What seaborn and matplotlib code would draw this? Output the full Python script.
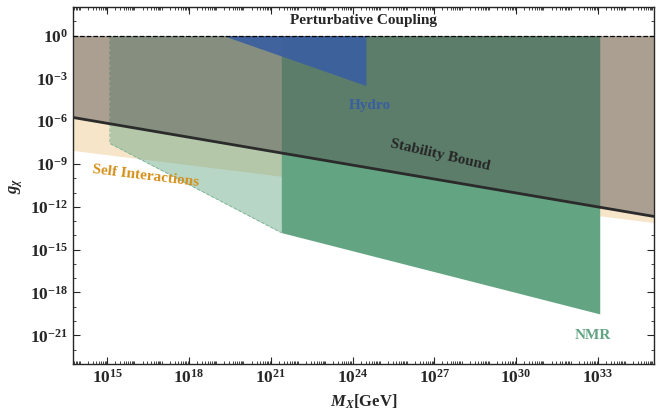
import numpy as np
import seaborn as sns
import matplotlib.pyplot as plt
from matplotlib.ticker import LogLocator, FixedLocator, NullFormatter

# log10 values
x_edges = [13.75, 35.05]
self_int_low = [-8.05, -13.1]          # lower edge of self-interaction band
stability = [-5.74, -12.67]            # stability bound
nmr_light_x = [15.1, 21.38]
nmr_light_low = [-7.56, -13.8]
nmr_x = [21.38, 33.07]
nmr_low = [-13.8, -19.5]
hydro_x = [19.25, 24.49]
hydro_low = [0.0, -3.5]
x_ticks = [15, 18, 21, 24, 27, 30, 33]
y_ticks = [0, -3, -6, -9, -12, -15, -18, -21]

sns.set_style('ticks')
plt.rcParams['font.family'] = ['Liberation Serif', 'DejaVu Serif']
plt.rcParams['font.weight'] = 'bold'
plt.rcParams['mathtext.fontset'] = 'custom'
plt.rcParams['mathtext.rm'] = 'Liberation Serif:bold'
plt.rcParams['mathtext.it'] = 'Liberation Serif:italic:bold'
plt.rcParams['mathtext.bf'] = 'Liberation Serif:bold'

fig = plt.figure(figsize=(6.65, 4.13), dpi=100)
ax = fig.add_axes([0.110, 0.119, 0.873, 0.864])
ax.set_xscale('log')
ax.set_yscale('log')

p = lambda v: 10.0 ** np.asarray(v)

# self interactions band
ax.fill_between(p(x_edges), p(self_int_low), 1, color='#f7e5c9', lw=0, zorder=1)
# NMR projected (light) and NMR
ax.fill_between(p(nmr_light_x), p(nmr_light_low), 1, color='#63a582', alpha=0.45, lw=0, zorder=2)
ax.plot(p([nmr_light_x[0], nmr_light_x[0], nmr_light_x[1]]),
        p([0, nmr_light_low[0], nmr_light_low[1]]), ls='--', lw=0.7, color='#7fb597', zorder=2)
ax.fill_between(p(nmr_x), p(nmr_low), 1, color='#63a582', lw=0, zorder=3)
# region above stability bound
ax.fill_between(p(x_edges), p(stability), 1, color='#545050', alpha=0.47, lw=0, zorder=4)
# hydro
ax.fill_between(p(hydro_x), p(hydro_low), 1, color='#3a5fa0', alpha=0.92, lw=0, zorder=5)
# stability bound line
ax.plot(p(x_edges), p(stability), color='#2b2b2b', lw=2, zorder=6)
# perturbative coupling
ax.axhline(1, color='black', ls='--', lw=0.9, zorder=6)

fs = 11
ax.text(p(24.4), p(1.05), 'Perturbative Coupling', ha='center', va='center', fontsize=fs, fontweight='bold')
ax.text(p(24.65), p(-4.9), 'Hydro', ha='center', va='center', fontsize=fs, fontweight='bold',
        color='#3a5fa0', zorder=8)
ax.text(p(27.2), p(-8.4), 'Stability Bound', ha='center', va='center', fontsize=fs, fontweight='bold',
        rotation=-13, zorder=8)
ax.text(p(16.4), p(-9.85), 'Self Interactions', ha='center', va='center', fontsize=fs, fontweight='bold',
        color='#d4901a', rotation=-7, zorder=8)
ax.text(p(32.8), p(-21.0), 'NMR', ha='center', va='center', fontsize=fs, fontweight='bold',
        color='#63a582', zorder=8)

ax.set_xlim(p(x_edges[0]), p(x_edges[1]))
ax.set_ylim(1e-23, 1e2)
ax.xaxis.set_major_locator(FixedLocator(p(x_ticks)))
ax.set_xticklabels([f'$10^{{{t}}}$' for t in x_ticks])
ax.yaxis.set_major_locator(FixedLocator(p(y_ticks)))
ax.set_yticklabels([f'$10^{{{t}}}$' for t in y_ticks])
ax.xaxis.set_minor_locator(LogLocator(base=10, subs=np.arange(1, 10), numticks=100))
ax.yaxis.set_minor_locator(FixedLocator(p(np.arange(-23, 3))))
ax.xaxis.set_minor_formatter(NullFormatter())
ax.yaxis.set_minor_formatter(NullFormatter())
ax.tick_params(which='both', direction='in', top=True, right=True, labelsize=12.5)
ax.tick_params(which='major', length=5)
ax.tick_params(which='minor', length=2.5)
for s in ax.spines.values():
    s.set_linewidth(1.0)
ax.set_xlabel(r'$M_X\mathrm{[GeV]}$', fontsize=12)
ax.set_ylabel(r'$g_\chi$', fontsize=12)

fig.savefig('out.png', dpi=100)
